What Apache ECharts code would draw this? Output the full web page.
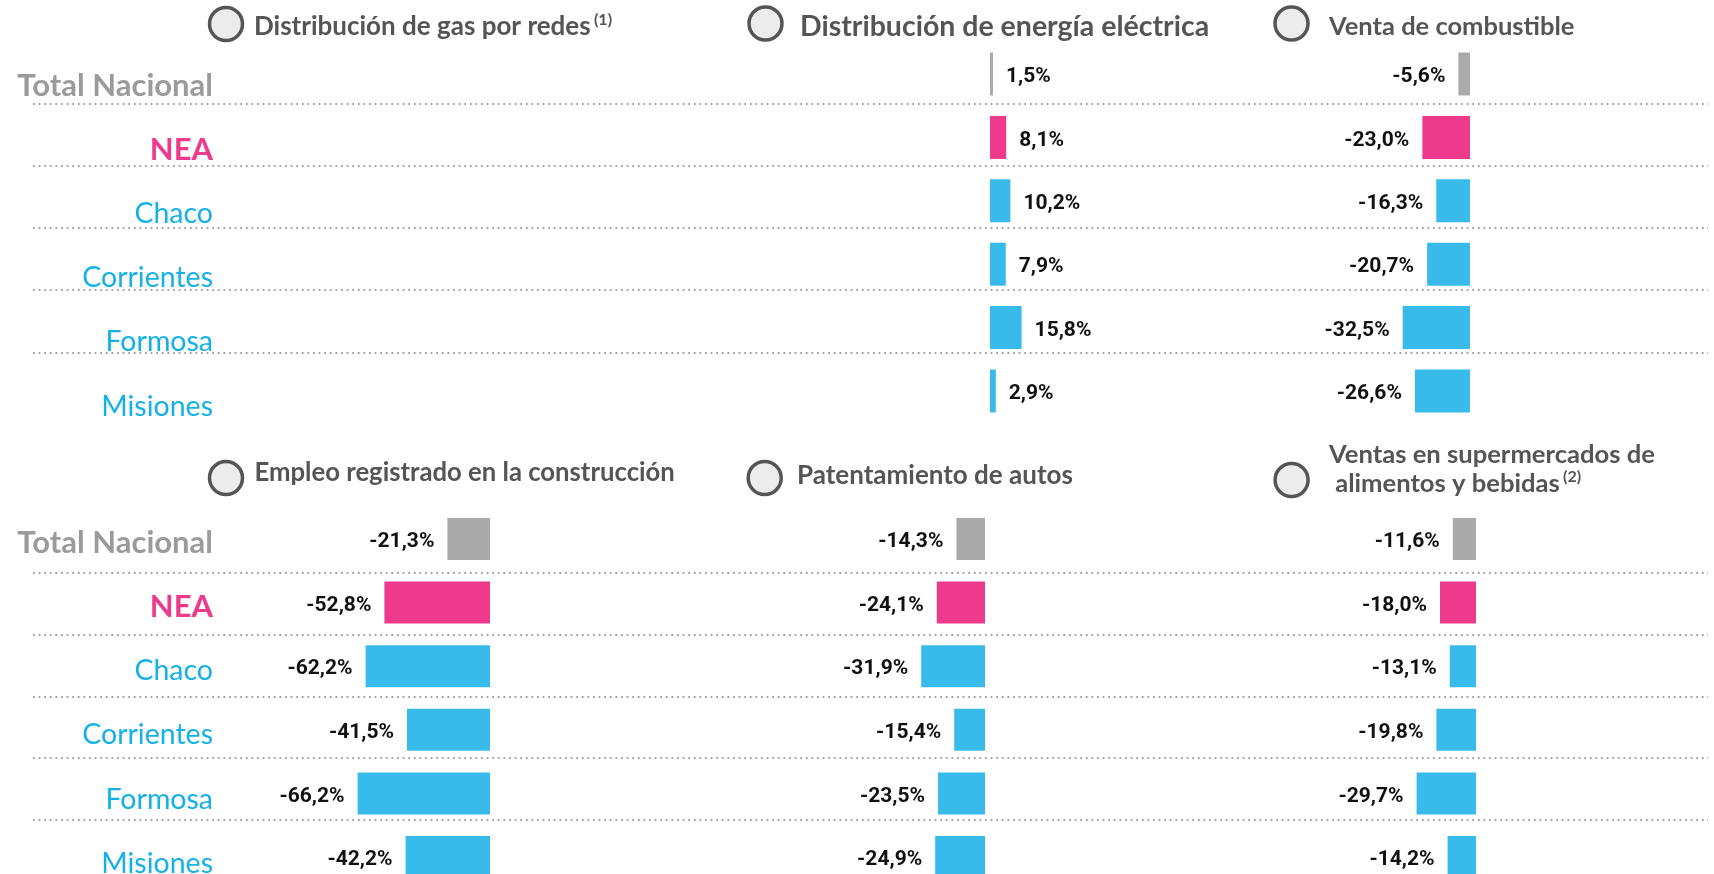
<!DOCTYPE html>
<html><head><meta charset="utf-8">
<script src="https://cdn.jsdelivr.net/npm/echarts@6/dist/echarts.min.js"></script>
<style>html,body{margin:0;padding:0;background:#fff}#c{width:1714px;height:874px}</style>
</head><body><div id="c"></div>
<script>
const categories = ['Total Nacional', 'NEA', 'Chaco', 'Corrientes', 'Formosa', 'Misiones'];
const gasRedes = [];
const energiaElectrica = [1.5, 8.1, 10.2, 7.9, 15.8, 2.9];
const ventaCombustible = [-5.6, -23.0, -16.3, -20.7, -32.5, -26.6];
const empleoConstruccion = [-21.3, -52.8, -62.2, -41.5, -66.2, -42.2];
const patentamientoAutos = [-14.3, -24.1, -31.9, -15.4, -23.5, -24.9];
const ventasSupermercados = [-11.6, -18.0, -13.1, -19.8, -29.7, -14.2];

const barColors = ['#aaaaaa', '#ee3a8c', '#38bbea'];
const titleFont = 'Lato, "Open Sans", sans-serif';
const labelFont = 'Lato, "Open Sans", sans-serif';
const valueFont = 'Roboto, sans-serif';
const dotColor = '#a3a3a3';

const chart = echarts.init(document.getElementById('c'));

function fmt(v) { return v.toFixed(1).replace('.', ',') + '%'; }

const grids = [
  {left: 221, width: 10, top: 53.4, height: 385.2},    // 0 top labels
  {left: 33, right: 6, top: 41.0, height: 373.5},      // 1 top dotted lines (6 bands)
  {left: 990, width: 40, top: 42.3, height: 380.4},    // 2 energia
  {left: 1397.5, width: 72.5, top: 42.3, height: 380.4}, // 3 combustible
  {left: 221, width: 10, top: 510.5, height: 385.2},   // 4 bottom labels
  {left: 33, right: 6, top: 510.9, height: 370.8},     // 5 bottom dotted lines (6 bands)
  {left: 350, width: 140, top: 507.2, height: 381.6},  // 6 construccion
  {left: 915, width: 70, top: 507.2, height: 381.6},   // 7 patentamiento
  {left: 1406, width: 70, top: 507.2, height: 381.6}   // 8 supermercados
].map(g => Object.assign({containLabel: false, outerBoundsMode: 'none'}, g));

const xRanges = [[0,1],[0,1],[0,20],[-35,0],[0,1],[0,1],[-70,0],[-35,0],[-35,0]];
const xAxes = xRanges.map((r, i) => ({type: 'value', gridIndex: i, min: r[0], max: r[1], show: false}));

function labelAxis(gi) {
  return {
    type: 'category', gridIndex: gi, data: categories, inverse: true,
    axisLine: {show: false}, axisTick: {show: false}, splitLine: {show: false},
    axisLabel: {
      margin: 8, align: 'right',
      formatter: (v, i) => i === 0 ? '{tot|' + v + '}' : (i === 1 ? '{nea|' + v + '}' : '{prov|' + v + '}'),
      rich: {
        tot: {color: '#9b9b9b', fontSize: 31, fontWeight: 'bold', fontFamily: labelFont},
        nea: {color: '#ee3a8c', fontSize: 31, fontWeight: 'bold', fontFamily: labelFont},
        prov: {color: '#14b1e7', fontSize: 28.5, fontWeight: 'normal', fontFamily: labelFont}
      }
    }
  };
}
function lineAxis(gi) {
  const t = 'rgba(0,0,0,0)';
  return {
    type: 'value', gridIndex: gi, min: 0, max: 6, interval: 1,
    axisLine: {show: false}, axisTick: {show: false}, axisLabel: {show: false},
    splitLine: {show: true, lineStyle: {color: [t, dotColor, dotColor, dotColor, dotColor, dotColor, t], width: 1.8, type: [1.8, 3.8]}}
  };
}
function barAxis(gi) {
  return {type: 'category', gridIndex: gi, data: categories, inverse: true, show: false};
}
const yAxes = [labelAxis(0), lineAxis(1), barAxis(2), barAxis(3), labelAxis(4), lineAxis(5), barAxis(6), barAxis(7), barAxis(8)];

function barSeries(gi, data, width) {
  const neg = data[0] < 0;
  return {
    type: 'bar', xAxisIndex: gi, yAxisIndex: gi, data: data, barWidth: width,
    itemStyle: {color: p => barColors[Math.min(p.dataIndex, 2)]},
    label: {
      show: true, position: neg ? 'left' : 'right', distance: 13, offset: [0, 3],
      formatter: p => fmt(p.value), color: '#111', fontSize: 21, fontWeight: 'bold', fontFamily: valueFont
    },
    silent: true, animation: false
  };
}

function circle(x, y) {
  return {type: 'circle', shape: {cx: x, cy: y, r: 16.5}, style: {fill: '#ececec', stroke: '#555', lineWidth: 3.5}, silent: true};
}
function title(x, y, text, size, sup) {
  return {
    type: 'text', x: x, y: y, silent: true,
    style: {
      text: sup ? '{t|' + text + '} {s|' + sup + '}' : '{t|' + text + '}',
      verticalAlign: 'middle', align: 'left',
      rich: {
        t: {fontSize: size, fontWeight: 'bold', fontFamily: titleFont, fill: '#555', lineHeight: size + 4},
        s: {fontSize: 16, fontWeight: 'bold', fontFamily: titleFont, fill: '#555', verticalAlign: 'top', lineHeight: 16}
      }
    }
  };
}

const option = {
  backgroundColor: '#fff',
  animation: false,
  grid: grids,
  xAxis: xAxes,
  yAxis: yAxes,
  series: [
    barSeries(2, energiaElectrica, 43),
    barSeries(3, ventaCombustible, 43),
    barSeries(6, empleoConstruccion, 42),
    barSeries(7, patentamientoAutos, 42),
    barSeries(8, ventasSupermercados, 42)
  ],
  graphic: [
    circle(226, 24), title(254, 27, 'Distribución de gas por redes', 26, '(1)'),
    circle(765.5, 23.5), title(800, 27, 'Distribución de energía eléctrica', 28.5),
    circle(1291.5, 23.5), title(1329, 27, 'Venta de combustible', 25.5),
    circle(226, 478), title(254.5, 473, 'Empleo registrado en la construcción', 25.7),
    circle(764.7, 478), title(797, 476, 'Patentamiento de autos', 26),
    circle(1291.6, 480), title(1329, 455, 'Ventas en supermercados de', 25.6),
    title(1329, 483.5, ' alimentos y bebidas', 25.6, '(2)')
  ]
};
chart.setOption(option);
</script></body></html>
